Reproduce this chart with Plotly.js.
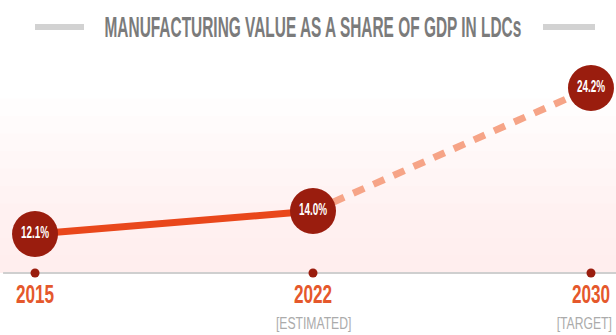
<!DOCTYPE html>
<html>
<head>
<meta charset="utf-8">
<script src="https://cdn.plot.ly/plotly-3.0.1.min.js"></script>
<style>html,body{margin:0;padding:0;background:#fff;}#chart{width:616px;height:335px;}</style>
</head>
<body>
<div id="chart"></div>
<script>
const years = ["2015", "2022", "2030"];
const subLabels = ["", "[ESTIMATED]", "[TARGET]"];
const shareOfGdp = [12.1, 14.0, 24.2];
const valueLabels = ["12.1%", "14.0%", "24.2%"];
const titleText = "MANUFACTURING VALUE AS A SHARE OF GDP IN LDCs";

const FONT = "'Liberation Sans', Arial, sans-serif";
const yMin = 8.87, yMax = 26.52;
const xIdx = years.map((_, i) => i);

const traces = [
  {
    x: xIdx.slice(0, 2), y: shareOfGdp.slice(0, 2),
    mode: "lines", line: {color: "#e9471b", width: 7},
    hoverinfo: "skip", showlegend: false
  },
  {
    x: xIdx.slice(1, 3), y: shareOfGdp.slice(1, 3),
    mode: "lines", line: {color: "#f6a487", width: 7, dash: "12px,10px"},
    hoverinfo: "skip", showlegend: false
  },
  {
    x: xIdx, y: xIdx.map(() => yMin),
    mode: "markers", marker: {color: "#9a1d0e", size: 9},
    cliponaxis: false, hoverinfo: "skip", showlegend: false
  },
  {
    x: xIdx, y: shareOfGdp,
    mode: "markers+text",
    marker: {color: "#9a1d0e", size: 46, line: {width: 0}},
    text: valueLabels.map(t => "<b>" + t + "</b>"),
    textposition: "middle center",
    textfont: {family: FONT, size: 16, color: "#ffffff"},
    cliponaxis: false, hoverinfo: "skip", showlegend: false
  }
];

const bands = [];
const nBands = 10;
for (let i = 0; i < nBands; i++) {
  bands.push({type: "rect", xref: "paper", yref: "paper", x0: 0, x1: 1, y0: 0,
    y1: 0.82 * (i + 1) / nBands, fillcolor: "#fce6e1", opacity: 0.07,
    line: {width: 0}, layer: "below"});
}

const subAnnotations = subLabels.map((s, i) => ({
  x: i, xref: "x", y: -0.235, yref: "paper",
  text: s, showarrow: false, xanchor: "center", yanchor: "middle",
  xshift: i === subLabels.length - 1 ? -6 : 0,
  font: {family: FONT, size: 16, color: "#ababab"}
})).filter(a => a.text);

const layout = {
  width: 616, height: 335,
  margin: {l: 0, r: 0, t: 60, b: 62},
  paper_bgcolor: "#ffffff",
  plot_bgcolor: "rgba(0,0,0,0)",
  title: {
    text: "<b>" + titleText + "</b>",
    font: {family: FONT, size: 29, color: "#7b7b7b"},
    x: 0.508, xanchor: "center", y: 0.92, yanchor: "middle"
  },
  xaxis: {
    range: [-0.126, 2.09],
    tickvals: xIdx, ticktext: years.map(y => "<b>" + y + "</b>"),
    tickfont: {family: FONT, size: 26, color: "#e5582c"},
    ticklabeloverflow: "allow",
    showgrid: false, zeroline: false, showline: false, ticks: "",
    ticklabelstandoff: 3, fixedrange: true
  },
  yaxis: {range: [yMin, yMax], visible: false, fixedrange: true},
  annotations: subAnnotations,
  shapes: bands.concat([
    {type: "line", xref: "paper", yref: "paper", x0: 0.005, x1: 1, y0: 0, y1: 0, line: {color: "#cfcfcf", width: 2}, layer: "below"},
    {type: "line", xref: "paper", yref: "paper", x0: 35/616, x1: 84/616, y0: 1.155, y1: 1.155, line: {color: "#d2d2d2", width: 6}},
    {type: "line", xref: "paper", yref: "paper", x0: 543/616, x1: 595/616, y0: 1.155, y1: 1.155, line: {color: "#d2d2d2", width: 6}}
  ])
};

function condense(el, sx, sy) {
  sy = sy || 1;
  const b = el.getBBox();
  const cx = b.x + b.width / 2, cy = b.y + b.height / 2;
  const t = el.getAttribute("transform") || "";
  el.setAttribute("transform", t + " translate(" + cx + "," + cy + ") scale(" + sx + "," + sy + ") translate(" + (-cx) + "," + (-cy) + ")");
}

Plotly.newPlot("chart", traces, layout, {displayModeBar: false, staticPlot: true}).then(gd => {
  const title = gd.querySelector(".gtitle");
  if (title) condense(title, 417 / title.getBBox().width);
  gd.querySelectorAll(".xtick text").forEach(el => condense(el, 0.66));
  gd.querySelectorAll(".annotation-text").forEach(el => condense(el, 0.76));
  gd.querySelectorAll(".textpoint text").forEach(el => condense(el, 0.62));
});
</script>
</body>
</html>
